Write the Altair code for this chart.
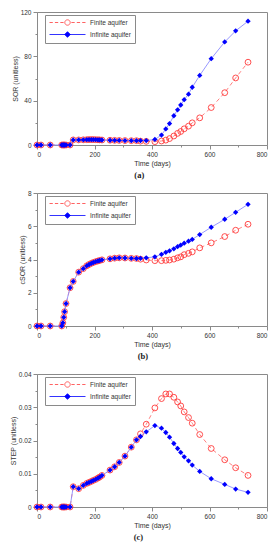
import altair as alt
import pandas as pd

# ---------------- data ----------------
TIME = [0, 14, 46, 86, 90, 93, 96, 101, 115, 126, 145, 161, 173, 181, 189, 196, 204, 212,
        218, 226, 254, 270, 286, 306, 328, 346, 360, 380, 410, 433, 448, 461, 476, 489,
        500, 512, 527, 540, 566, 606, 653, 691, 734]

SOR_FINITE = [0, 0, 0, 0, 0, 0, 0, 0, 0, 4.6, 4.6, 4.7, 4.8, 4.9, 4.9, 4.9, 4.8, 4.7,
              4.6, 4.5, 4.3, 4.2, 4.1, 4.0, 3.9, 3.9, 3.5, 3.3, 3.0, 3.6, 4.4, 5.8, 8.1, 10.5,
              12.2, 14.6, 17.0, 20.0, 24.5, 33.8, 47.2, 60.5, 74.7]
SOR_INFINITE = [0, 0, 0, 0, 0, 0, 0, 0, 0, 4.6, 4.6, 4.7, 4.8, 4.9, 4.9, 4.9, 4.8, 4.7,
                4.6, 4.5, 4.3, 4.2, 4.1, 4.0, 3.9, 3.9, 4.0, 4.0, 5.0, 9.0, 14.5, 19.3, 26.4, 31.7,
                36.1, 40.9, 45.9, 52.1, 62.8, 77.9, 93.0, 103.0, 111.7]

CSOR_FINITE = [0, 0, 0, 0, 0.19, 0.52, 0.86, 1.35, 2.30, 2.68, 3.24, 3.45, 3.62, 3.70, 3.77, 3.82,
               3.87, 3.91, 3.94, 3.98, 4.04, 4.08, 4.10, 4.09, 4.07, 4.06, 4.02, 3.97, 3.93, 3.93,
               3.95, 3.97, 4.02, 4.10, 4.16, 4.29, 4.37, 4.46, 4.70, 5.00, 5.38, 5.76, 6.12]
CSOR_INFINITE = [0, 0, 0, 0, 0.19, 0.52, 0.86, 1.35, 2.30, 2.68, 3.24, 3.45, 3.62, 3.70, 3.77, 3.82,
                 3.87, 3.91, 3.94, 3.98, 4.04, 4.08, 4.10, 4.09, 4.07, 4.06, 4.07, 4.10, 4.16, 4.31,
                 4.43, 4.52, 4.64, 4.77, 4.87, 4.98, 5.10, 5.21, 5.50, 5.94, 6.42, 6.84, 7.32]

STEP_FINITE = [0, 0, 0, 0, 0, 0, 0, 0, 0, 0.0061, 0.0055, 0.0065, 0.0071, 0.0074, 0.0077, 0.0080,
               0.0083, 0.0087, 0.0090, 0.0095, 0.0111, 0.0121, 0.0134, 0.0153, 0.0180, 0.0202,
               0.0220, 0.0249, 0.0298, 0.0326, 0.0340, 0.0340, 0.0330, 0.0316, 0.0304, 0.0286,
               0.0269, 0.0252, 0.0218, 0.0176, 0.0142, 0.0118, 0.0095]
STEP_INFINITE = [0, 0, 0, 0, 0, 0, 0, 0, 0, 0.0061, 0.0055, 0.0065, 0.0071, 0.0074, 0.0077, 0.0080,
                 0.0083, 0.0087, 0.0090, 0.0095, 0.0111, 0.0121, 0.0134, 0.0153, 0.0180, 0.0202,
                 0.0212, 0.0226, 0.0245, 0.0237, 0.0224, 0.0210, 0.0191, 0.0176, 0.0164, 0.0151,
                 0.0139, 0.0126, 0.0107, 0.0085, 0.0068, 0.0054, 0.0044]

SERIES = ["Finite aquifer", "Infinite aquifer"]
X_TICKS = [0, 100, 200, 300, 400, 500, 600, 700, 800]

# ---------------- style ----------------
FONT = "Liberation Sans"
RED = "#ff3b3b"
RED_LINE = "#ff7070"
BLUE = "#0000ff"
BLUE_LINE = "#8c8cff"
GREY = "#8a8a8a"
TXT = "#333333"

# legend glyphs: line with marker, drawn to the right of the nominal symbol box
PATH_FIN = ("M-1,0L0.1,0M0.8,0L1.9,0M2.6,0L3.7,0M6.3,0L7.4,0M8.1,0L9.2,0M9.9,0L11,0"
            "M4.1,0A0.9,0.9,0,1,0,5.9,0A0.9,0.9,0,1,0,4.1,0Z")
PATH_INF = "M-1,0L11,0M5,-0.95L5.95,0L5,0.95L4.05,0Z"

W, H = 230, 133


def panel(fin, inf, ymax, yvals, major, ytitle, caption):
    df = pd.DataFrame({"t": TIME, "fin": fin, "inf": inf})
    leg_df = pd.DataFrame({"series": SERIES})

    x = alt.X("t:Q", scale=alt.Scale(domain=[0, 800], nice=False, zero=True),
              axis=alt.Axis(values=X_TICKS, title="Time (days)",
                            labelExpr="datum.value % 200 == 0 ? datum.label : ''",
                            tickSize={"condition": {"test": "datum.value % 200 == 0", "value": 4},
                                      "value": 2}))
    test = f"abs(datum.value / {major} - round(datum.value / {major})) < 1e-6"
    yaxis = alt.Axis(values=yvals, title=ytitle, format=".3~f",
                     labelExpr=f"{test} ? datum.label : ''",
                     tickSize={"condition": {"test": test, "value": 4}, "value": 2})

    def y(field):
        return alt.Y(f"{field}:Q", scale=alt.Scale(domain=[0, ymax], nice=False), axis=yaxis)

    base = alt.Chart(df)
    red_line = base.mark_line(color=RED_LINE, strokeWidth=0.9, strokeDash=[4, 3]).encode(x=x, y=y("fin"))
    red_pts = base.mark_point(shape="circle", filled=False, color=RED, size=34, strokeWidth=0.9,
                              opacity=1).encode(x=x, y=y("fin"))
    blue_line = base.mark_line(color=BLUE_LINE, strokeWidth=0.9).encode(x=x, y=y("inf"))
    blue_pts = base.mark_point(shape="diamond", filled=True, color=BLUE, size=28,
                               opacity=1).encode(x=x, y=y("inf"))

    legend = alt.Legend(title=None, orient="none", legendX=8, legendY=3,
                        strokeColor=GREY, fillColor="white", padding=4,
                        labelFont=FONT, labelFontSize=6.5, labelColor=TXT,
                        symbolSize=36, symbolStrokeWidth=0.8, labelOffset=34, rowPadding=3)
    leg = alt.Chart(leg_df).transform_filter("false").mark_point(opacity=1, strokeWidth=0.8).encode(
        shape=alt.Shape("series:N", scale=alt.Scale(domain=SERIES, range=[PATH_FIN, PATH_INF]),
                        legend=legend),
        stroke=alt.Stroke("series:N", scale=alt.Scale(domain=SERIES, range=[RED, BLUE]), legend=legend),
        fill=alt.Fill("series:N", scale=alt.Scale(domain=SERIES, range=["transparent", BLUE]),
                      legend=legend),
    )

    return alt.layer(red_line, red_pts, blue_line, blue_pts, leg).properties(
        width=W, height=H,
        title=alt.TitleParams(caption, orient="bottom", frame="bounds", anchor="middle",
                              font="Liberation Serif", fontSize=8.5, fontWeight="bold",
                              color="#222", offset=4),
    )


pa = panel(SOR_FINITE, SOR_INFINITE, 120, list(range(0, 121, 20)), 40, "SOR (unitless)", "(a)")
pb = panel(CSOR_FINITE, CSOR_INFINITE, 8, list(range(0, 9)), 2, "cSOR (unitless)", "(b)")
pc = panel(STEP_FINITE, STEP_INFINITE, 0.04, [i * 0.005 for i in range(9)], 0.01,
           "STEP (unitless)", "(c)")

chart = alt.vconcat(pa, pb, pc, spacing=9).resolve_scale(
    shape="independent", stroke="independent", fill="independent"
).resolve_legend(shape="independent", stroke="independent", fill="independent").properties(
    padding=0
).configure_view(stroke=GREY, strokeWidth=1).configure_axis(
    grid=False, domainColor=GREY, tickColor=GREY, labelColor=TXT, titleColor=TXT,
    labelFont=FONT, titleFont=FONT, labelFontSize=6.5, titleFontSize=7,
    titleFontWeight="normal", labelPadding=2, titlePadding=2,
)

chart.save("out.html", embed_options={"renderer": "svg", "actions": False})
